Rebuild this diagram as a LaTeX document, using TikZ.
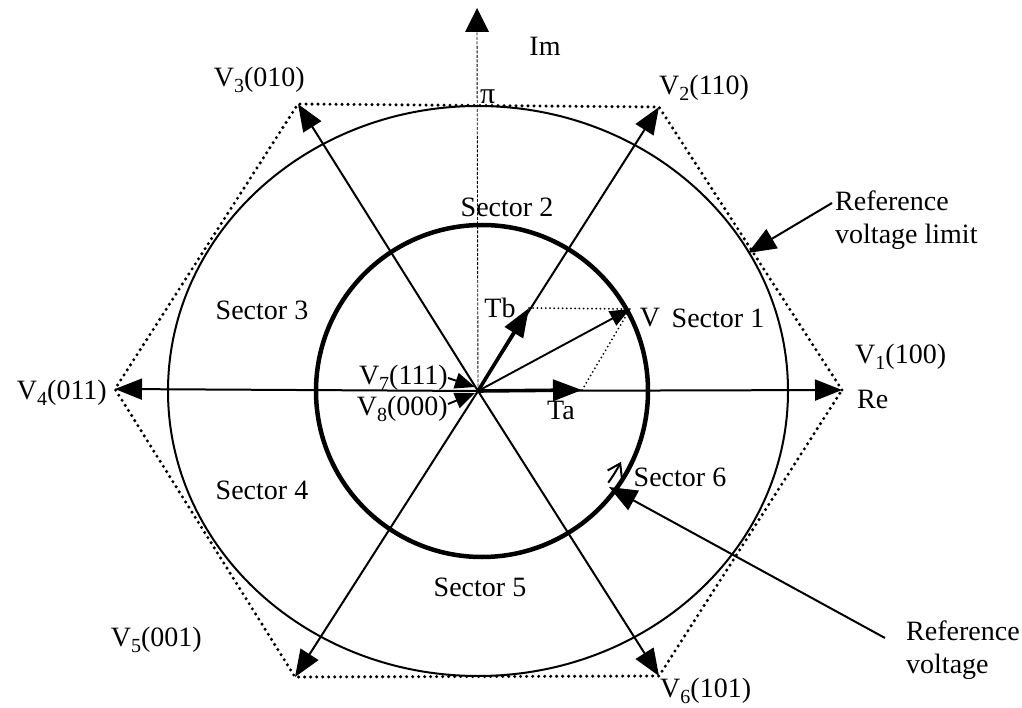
\documentclass[tikz,border=0pt]{standalone}
\usepackage{fontspec}
\setmainfont{Liberation Serif}
\usetikzlibrary{arrows.meta}
\newcommand{\vsub}[1]{\raisebox{-0.22em}{\fontsize{20}{20}\selectfont #1}}
\begin{document}
\begin{tikzpicture}[x=1pt,y=-1pt,
  lbl/.style={font=\fontsize{28}{33}\selectfont, inner sep=0pt},
  spoke/.style={line width=2pt, -{Triangle[length=27pt,width=21pt]}},
  boldvec/.style={line width=3.6pt, -{Triangle[length=29pt,width=21pt]}},
  thinvec/.style={line width=1.9pt, -{Triangle[length=20pt,width=16pt]}},
  dots/.style={line width=3.4pt, line cap=round, dash pattern=on 0pt off 6pt},
  fine/.style={line width=2pt, line cap=round, dash pattern=on 0pt off 4.2pt},
  axisline/.style={line width=0.9pt, dash pattern=on 3pt off 1.5pt},
]
\useasboundingbox (0,0) rectangle (1022,708);
\coordinate (O) at (478,391);
\coordinate (v1) at (842,390);
\coordinate (v2) at (659,107);
\coordinate (v3) at (298,104);
\coordinate (v4) at (115,389);
\coordinate (v5) at (295,677);
\coordinate (v6) at (659,676);
\coordinate (imtip) at (477,8);
\coordinate (ta) at (582,390);
\coordinate (tb) at (529,308);
\coordinate (vv) at (630,309);
\coordinate (ic) at (482,391);
% hexagon
\draw[dots] (v1) -- (v2) -- (v3) -- (v4) -- (v5) -- (v6) -- cycle;
% outer limit circle
\draw[line width=2pt] (O) ellipse [x radius=310, y radius=285];
% inner reference circle
\draw[line width=4.5pt] (ic) circle [radius=166];
% imaginary axis
\draw[axisline] (O) -- (477,30);
\fill (imtip) -- (465,32) -- (489,32) -- cycle;
% spokes
\foreach \p in {v1,v2,v3,v4,v5,v6} \draw[spoke] (O) -- (\p);
% decomposition
\draw[fine] (tb) -- (vv);
\draw[fine] (ta) -- (vv);
\draw[boldvec] (O) -- (tb);
\draw[boldvec] (O) -- (ta);
\draw[thinvec] (O) -- (vv);
% zero vectors
\coordinate (z7) at (448,378);
\coordinate (z8) at (448,404);
\draw[thinvec] (z7) -- (475,387);
\draw[thinvec] (z8) -- (475,393);
% rotation arrow on inner circle (y axis points down here)
\draw[line width=2pt, -{Straight Barb[length=12pt,width=16pt]}] ([shift={(36:156)}]ic) arc[start angle=36, end angle=27, radius=156];
% callouts
\coordinate (c1s) at (832,203);
\coordinate (c1e) at (748,253);
\draw[line width=2pt, -{Triangle[length=28pt,width=22pt]}] (c1s) -- (c1e);
\coordinate (c2s) at (885,638);
\coordinate (c2e) at (609,487);
\draw[line width=2pt, -{Triangle[length=28pt,width=22pt]}] (c2s) -- (c2e);
% labels
\node[lbl] (lIm) at (545,46) {Im};
\node[lbl, anchor=south west] (lpi) at (480,104) {\fontsize{30}{30}\selectfont π};
\node[lbl, anchor=east] (l3) at (305,80) {V\vsub{3}(010)};
\node[lbl, anchor=west] (l2) at (659,88) {V\vsub{2}(110)};
\node[lbl, anchor=west] (l1) at (855,357) {V\vsub{1}(100)};
\node[lbl, anchor=west] (lRe) at (857,399) {Re};
\node[lbl, anchor=east] (l4) at (107,393) {V\vsub{4}(011)};
\node[lbl, anchor=east] (l5) at (202,640) {V\vsub{5}(001)};
\node[lbl, anchor=west] (l6) at (660,691) {V\vsub{6}(101)};
\node[lbl, anchor=east] (l7) at (448,378) {V\vsub{7}(111)};
\node[lbl, anchor=east] (l8) at (448,409) {V\vsub{8}(000)};
\node[lbl] (lTb) at (500,308) {Tb};
\node[lbl] (lTa) at (561,410) {Ta};
\node[lbl] (lV) at (650,318) {V};
\node[lbl] (s1) at (718,318) {Sector 1};
\node[lbl] (s2) at (507,207) {Sector 2};
\node[lbl] (s3) at (262,310) {Sector 3};
\node[lbl] (s4) at (262,490) {Sector 4};
\node[lbl] (s5) at (480,587) {Sector 5};
\node[lbl] (s6) at (680,477) {Sector 6};
\node[lbl, anchor=west, align=left] (rl) at (835,220) {Reference\\voltage limit};
\node[lbl, anchor=west, align=left] (rv) at (906,650) {Reference\\voltage};
\end{tikzpicture}
\end{document}
